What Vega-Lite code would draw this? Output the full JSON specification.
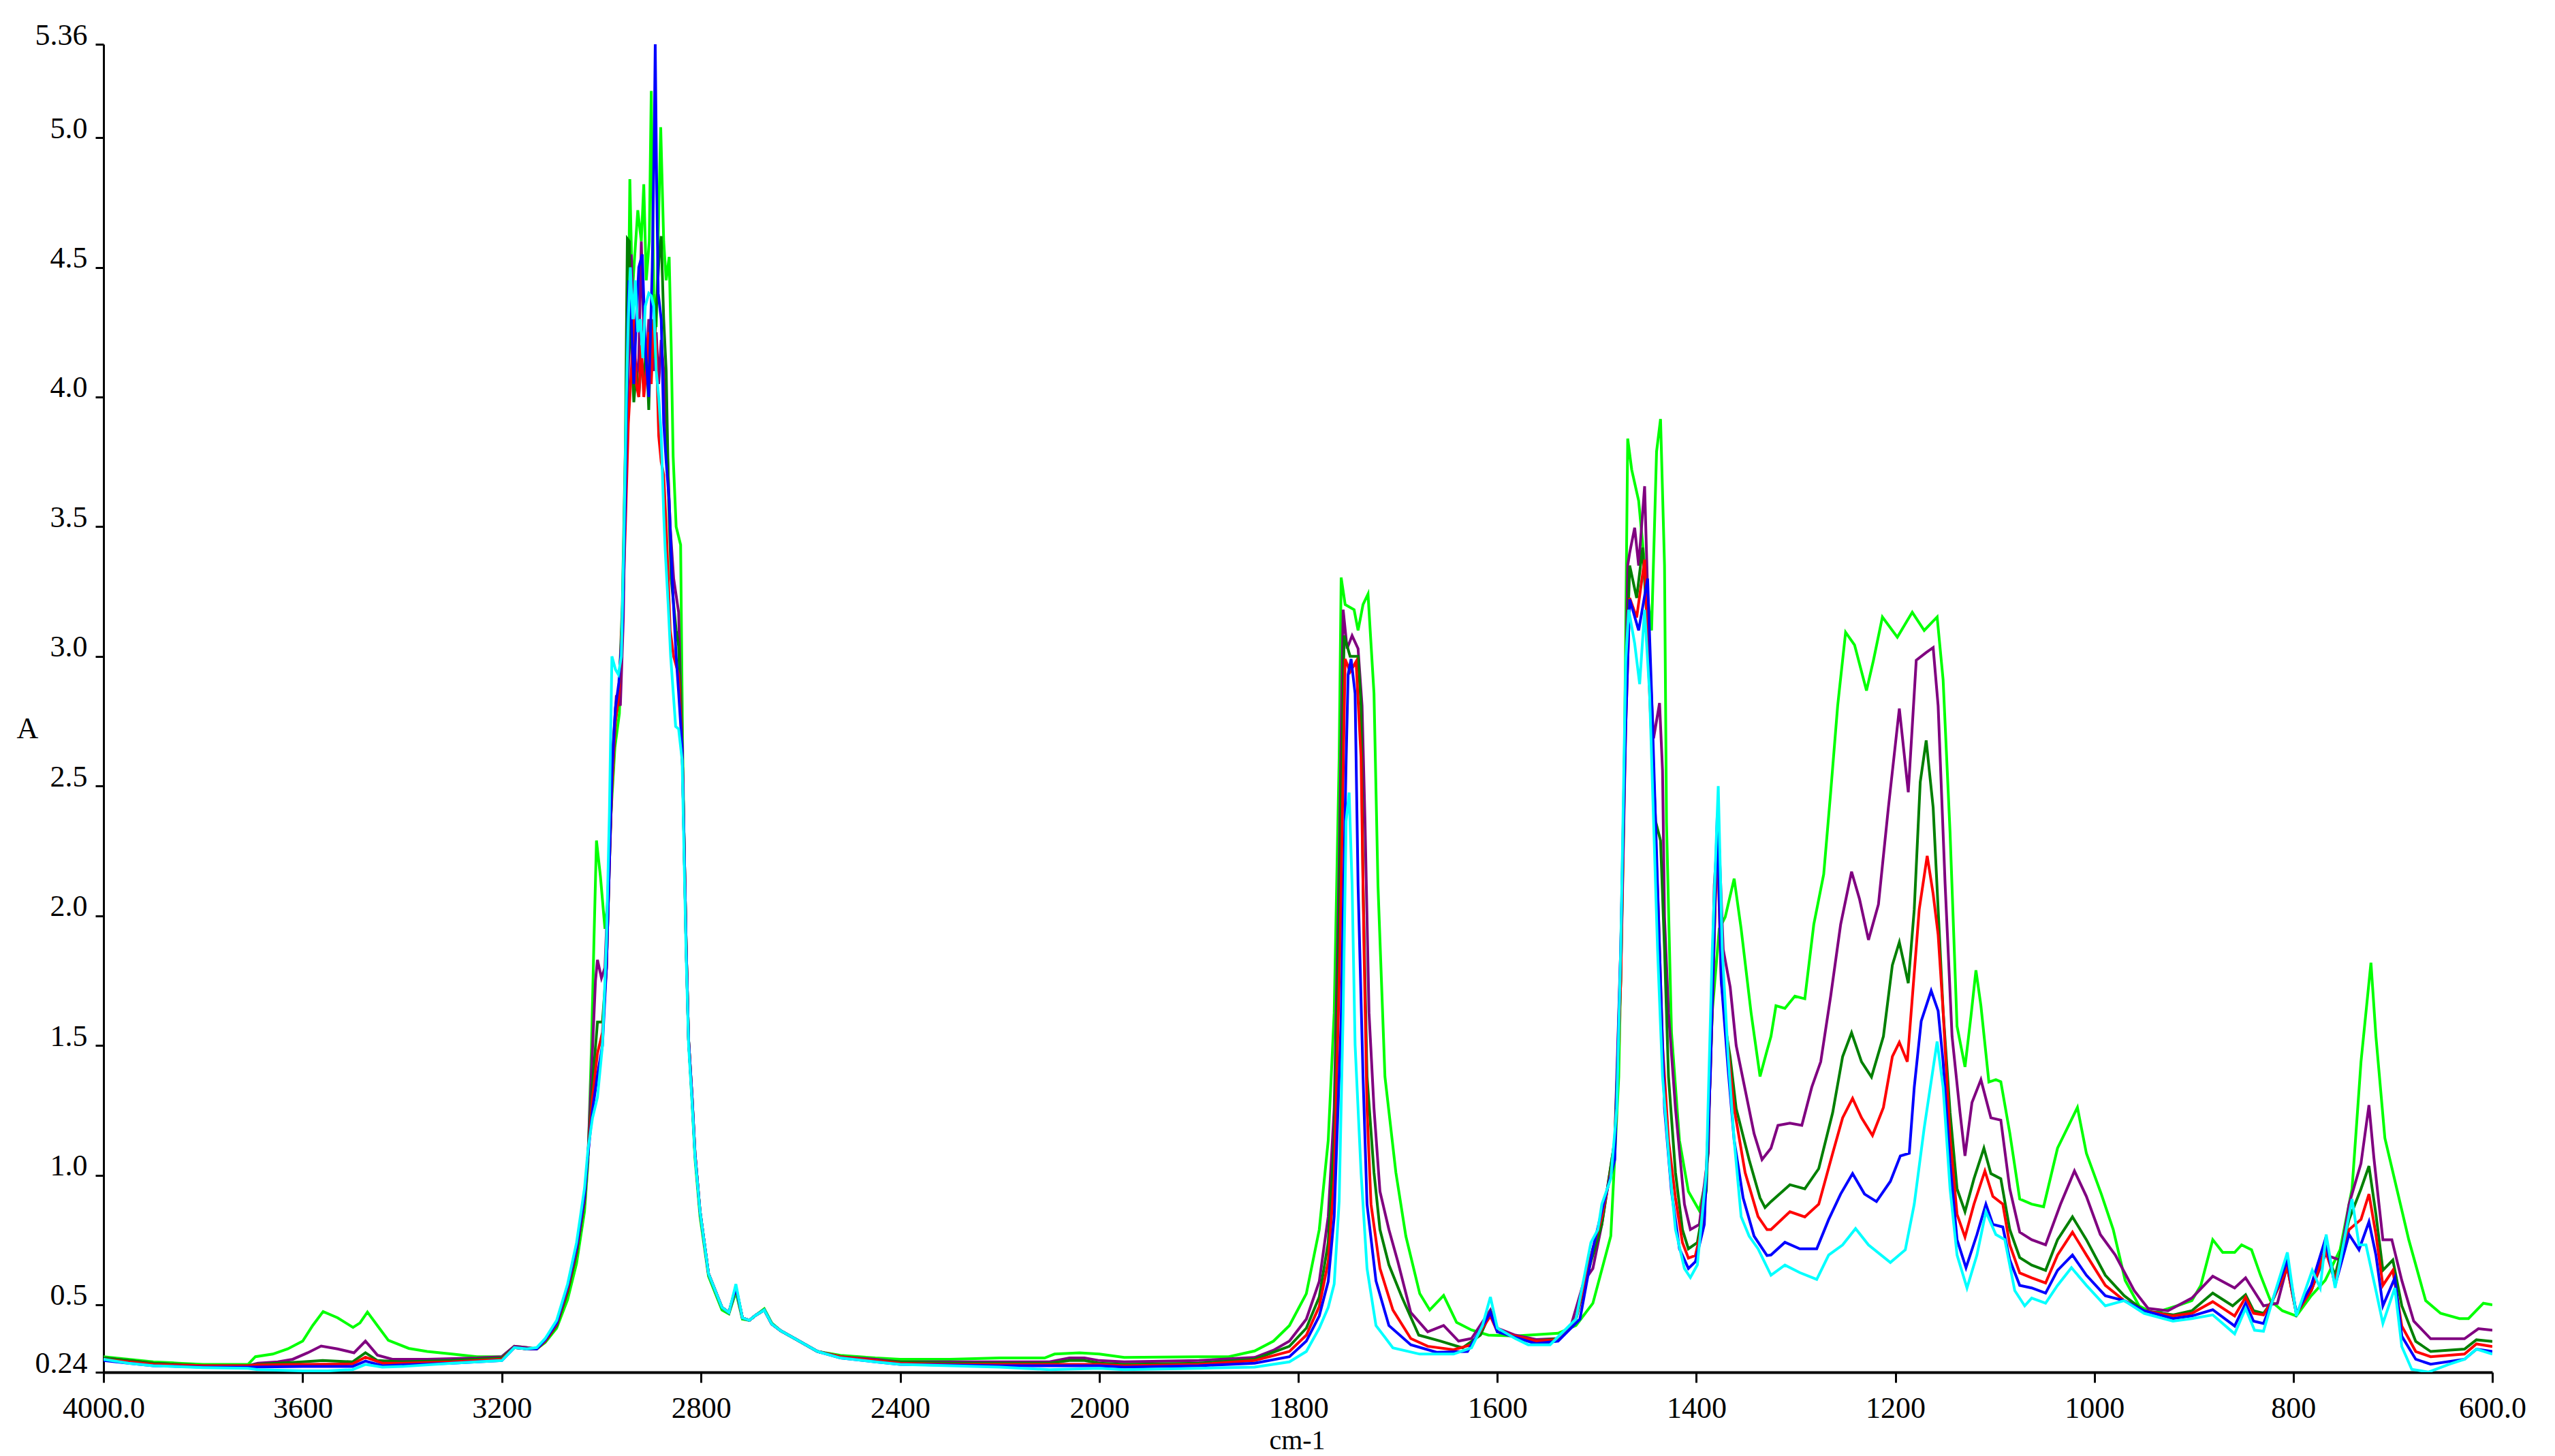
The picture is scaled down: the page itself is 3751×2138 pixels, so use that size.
{
"$schema":"https://vega.github.io/schema/vega-lite/v6.json",
"width":3507,"height":1950,
"autosize":"none",
"padding":{"left":152,"top":65,"right":92,"bottom":123},
"background":"white",
"config":{"view":{"stroke":null}},
"data":{"values":[
{"s":"lime","w":4000,"a":0.30},{"s":"lime","w":3950,"a":0.29},{"s":"lime","w":3900,"a":0.28},{"s":"lime","w":3850,"a":0.275},{"s":"lime","w":3800,"a":0.27},{"s":"lime","w":3710,"a":0.27},{"s":"lime","w":3695,"a":0.30},{"s":"lime","w":3660,"a":0.31},{"s":"lime","w":3630,"a":0.33},{"s":"lime","w":3600,"a":0.36},{"s":"lime","w":3580,"a":0.42},{"s":"lime","w":3559,"a":0.474},{"s":"lime","w":3530,"a":0.45},{"s":"lime","w":3499,"a":0.413},{"s":"lime","w":3485,"a":0.43},{"s":"lime","w":3470,"a":0.472},{"s":"lime","w":3450,"a":0.42},{"s":"lime","w":3428,"a":0.363},{"s":"lime","w":3387,"a":0.332},{"s":"lime","w":3350,"a":0.32},{"s":"lime","w":3300,"a":0.31},{"s":"lime","w":3250,"a":0.30},{"s":"lime","w":3200,"a":0.30},{"s":"lime","w":3175,"a":0.34},{"s":"lime","w":3150,"a":0.335},{"s":"lime","w":3130,"a":0.33},{"s":"lime","w":3113,"a":0.355},{"s":"lime","w":3090,"a":0.41},{"s":"lime","w":3068,"a":0.52},{"s":"lime","w":3050,"a":0.66},{"s":"lime","w":3034,"a":0.86},{"s":"lime","w":3027,"a":1.05},{"s":"lime","w":3020,"a":1.5},{"s":"lime","w":3015,"a":1.91},{"s":"lime","w":3010,"a":2.29},{"s":"lime","w":3002,"a":2.15},{"s":"lime","w":2993,"a":1.95},{"s":"lime","w":2988,"a":2.04},{"s":"lime","w":2981,"a":2.39},{"s":"lime","w":2973,"a":2.65},{"s":"lime","w":2964,"a":2.78},{"s":"lime","w":2956,"a":3.26},{"s":"lime","w":2952,"a":3.69},{"s":"lime","w":2946,"a":4.3},{"s":"lime","w":2943,"a":4.84},{"s":"lime","w":2938,"a":4.4},{"s":"lime","w":2933,"a":4.55},{"s":"lime","w":2927,"a":4.72},{"s":"lime","w":2920,"a":4.6},{"s":"lime","w":2915,"a":4.82},{"s":"lime","w":2910,"a":4.45},{"s":"lime","w":2904,"a":4.6},{"s":"lime","w":2900,"a":5.18},{"s":"lime","w":2895,"a":4.4},{"s":"lime","w":2890,"a":4.27},{"s":"lime","w":2885,"a":4.7},{"s":"lime","w":2881,"a":5.04},{"s":"lime","w":2875,"a":4.6},{"s":"lime","w":2870,"a":4.45},{"s":"lime","w":2864,"a":4.54},{"s":"lime","w":2860,"a":4.2},{"s":"lime","w":2856,"a":3.77},{"s":"lime","w":2850,"a":3.5},{"s":"lime","w":2841,"a":3.43},{"s":"lime","w":2837,"a":2.65},{"s":"lime","w":2834,"a":2.28},{"s":"lime","w":2830,"a":1.89},{"s":"lime","w":2825,"a":1.52},{"s":"lime","w":2818,"a":1.28},{"s":"lime","w":2812,"a":1.06},{"s":"lime","w":2802,"a":0.84},{"s":"lime","w":2785,"a":0.61},{"s":"lime","w":2758,"a":0.48},{"s":"lime","w":2744,"a":0.465},{"s":"lime","w":2730,"a":0.55},{"s":"lime","w":2717,"a":0.445},{"s":"lime","w":2703,"a":0.44},{"s":"lime","w":2690,"a":0.46},{"s":"lime","w":2673,"a":0.485},{"s":"lime","w":2658,"a":0.43},{"s":"lime","w":2640,"a":0.40},{"s":"lime","w":2612,"a":0.37},{"s":"lime","w":2566,"a":0.32},{"s":"lime","w":2520,"a":0.305},{"s":"lime","w":2450,"a":0.295},{"s":"lime","w":2400,"a":0.29},{"s":"lime","w":2300,"a":0.29},{"s":"lime","w":2200,"a":0.295},{"s":"lime","w":2110,"a":0.295},{"s":"lime","w":2090,"a":0.31},{"s":"lime","w":2040,"a":0.315},{"s":"lime","w":2000,"a":0.31},
{"s":"lime","w":1975,"a":0.297},{"s":"lime","w":1900,"a":0.30},{"s":"lime","w":1870,"a":0.30},{"s":"lime","w":1844,"a":0.322},{"s":"lime","w":1825,"a":0.36},{"s":"lime","w":1809,"a":0.42},{"s":"lime","w":1792,"a":0.543},{"s":"lime","w":1779,"a":0.79},{"s":"lime","w":1770,"a":1.134},{"s":"lime","w":1764,"a":1.626},{"s":"lime","w":1759,"a":2.61},{"s":"lime","w":1757,"a":3.304},{"s":"lime","w":1753,"a":3.2},{"s":"lime","w":1744,"a":3.18},{"s":"lime","w":1740,"a":3.1},{"s":"lime","w":1735,"a":3.2},{"s":"lime","w":1730,"a":3.24},{"s":"lime","w":1724,"a":2.857},{"s":"lime","w":1720,"a":2.118},{"s":"lime","w":1713,"a":1.38},{"s":"lime","w":1702,"a":1.01},{"s":"lime","w":1692,"a":0.765},{"s":"lime","w":1678,"a":0.543},{"s":"lime","w":1668,"a":0.48},{"s":"lime","w":1654,"a":0.536},{"s":"lime","w":1641,"a":0.432},{"s":"lime","w":1626,"a":0.403},{"s":"lime","w":1609,"a":0.383},{"s":"lime","w":1582,"a":0.38},{"s":"lime","w":1539,"a":0.39},{"s":"lime","w":1521,"a":0.42},{"s":"lime","w":1504,"a":0.506},{"s":"lime","w":1486,"a":0.765},{"s":"lime","w":1478,"a":1.38},{"s":"lime","w":1473,"a":2.36},{"s":"lime","w":1469,"a":3.84},{"s":"lime","w":1465,"a":3.72},{"s":"lime","w":1458,"a":3.6},{"s":"lime","w":1449,"a":3.23},{"s":"lime","w":1445,"a":3.1},{"s":"lime","w":1440,"a":3.79},{"s":"lime","w":1436,"a":3.915},{"s":"lime","w":1432,"a":3.35},{"s":"lime","w":1430,"a":2.36},{"s":"lime","w":1425,"a":1.55},{"s":"lime","w":1417,"a":1.134},{"s":"lime","w":1408,"a":0.937},{"s":"lime","w":1397,"a":0.863},{"s":"lime","w":1390,"a":0.99},{"s":"lime","w":1384,"a":1.63},{"s":"lime","w":1377,"a":1.95},{"s":"lime","w":1371,"a":1.995},{"s":"lime","w":1362,"a":2.143},{"s":"lime","w":1355,"a":1.95},{"s":"lime","w":1345,"a":1.626},{"s":"lime","w":1336,"a":1.38},{"s":"lime","w":1329,"a":1.48},{"s":"lime","w":1325,"a":1.535},{"s":"lime","w":1320,"a":1.653},{"s":"lime","w":1311,"a":1.643},{"s":"lime","w":1301,"a":1.69},{"s":"lime","w":1291,"a":1.68},{"s":"lime","w":1282,"a":1.966},{"s":"lime","w":1272,"a":2.16},{"s":"lime","w":1265,"a":2.476},{"s":"lime","w":1258,"a":2.809},{"s":"lime","w":1250,"a":3.093},{"s":"lime","w":1241,"a":3.044},{"s":"lime","w":1229,"a":2.868},{"s":"lime","w":1222,"a":2.985},{"s":"lime","w":1213,"a":3.152},{"s":"lime","w":1198,"a":3.074},{"s":"lime","w":1183,"a":3.17},{"s":"lime","w":1171,"a":3.1},{"s":"lime","w":1158,"a":3.152},{"s":"lime","w":1152,"a":2.91},{"s":"lime","w":1145,"a":2.32},{"s":"lime","w":1138,"a":1.574},{"s":"lime","w":1130,"a":1.417},{"s":"lime","w":1124,"a":1.613},{"s":"lime","w":1119,"a":1.79},{"s":"lime","w":1114,"a":1.653},{"s":"lime","w":1106,"a":1.359},{"s":"lime","w":1099,"a":1.368},{"s":"lime","w":1094,"a":1.36},{"s":"lime","w":1085,"a":1.163},{"s":"lime","w":1075,"a":0.908},{"s":"lime","w":1063,"a":0.888},{"s":"lime","w":1051,"a":0.878},{"s":"lime","w":1037,"a":1.104},{"s":"lime","w":1027,"a":1.182},{"s":"lime","w":1017,"a":1.261},{"s":"lime","w":1008,"a":1.084},{"s":"lime","w":993,"a":0.927},{"s":"lime","w":981,"a":0.79},{"s":"lime","w":969,"a":0.594},{"s":"lime","w":955,"a":0.496},{"s":"lime","w":941,"a":0.467},{"s":"lime","w":917,"a":0.496},{"s":"lime","w":902,"a":0.516},{"s":"lime","w":893,"a":0.575},{"s":"lime","w":881,"a":0.751},{"s":"lime","w":871,"a":0.702},{"s":"lime","w":859,"a":0.702},{"s":"lime","w":852,"a":0.731},{"s":"lime","w":842,"a":0.712},{"s":"lime","w":833,"a":0.614},{"s":"lime","w":823,"a":0.516},{"s":"lime","w":811,"a":0.477},{"s":"lime","w":797,"a":0.457},{"s":"lime","w":782,"a":0.535},{"s":"lime","w":768,"a":0.594},{"s":"lime","w":753,"a":0.712},{"s":"lime","w":741,"a":0.947},{"s":"lime","w":732,"a":1.437},{"s":"lime","w":722,"a":1.819},{"s":"lime","w":717,"a":1.535},{"s":"lime","w":708,"a":1.143},{"s":"lime","w":696,"a":0.947},{"s":"lime","w":684,"a":0.751},{"s":"lime","w":667,"a":0.516},{"s":"lime","w":652,"a":0.467},{"s":"lime","w":633,"a":0.447},{"s":"lime","w":624,"a":0.447},{"s":"lime","w":609,"a":0.506},{"s":"lime","w":600,"a":0.50},

{"s":"purple","w":4000,"a":0.295},{"s":"purple","w":3950,"a":0.285},{"s":"purple","w":3900,"a":0.275},{"s":"purple","w":3800,"a":0.265},{"s":"purple","w":3710,"a":0.265},{"s":"purple","w":3690,"a":0.275},{"s":"purple","w":3650,"a":0.28},{"s":"purple","w":3620,"a":0.29},{"s":"purple","w":3590,"a":0.315},{"s":"purple","w":3563,"a":0.341},{"s":"purple","w":3530,"a":0.33},{"s":"purple","w":3497,"a":0.315},{"s":"purple","w":3474,"a":0.36},{"s":"purple","w":3450,"a":0.306},{"s":"purple","w":3420,"a":0.29},{"s":"purple","w":3350,"a":0.29},{"s":"purple","w":3250,"a":0.295},{"s":"purple","w":3200,"a":0.30},{"s":"purple","w":3175,"a":0.34},{"s":"purple","w":3150,"a":0.335},{"s":"purple","w":3130,"a":0.33},{"s":"purple","w":3113,"a":0.36},{"s":"purple","w":3090,"a":0.42},{"s":"purple","w":3068,"a":0.55},{"s":"purple","w":3050,"a":0.70},{"s":"purple","w":3034,"a":0.90},{"s":"purple","w":3027,"a":1.08},{"s":"purple","w":3020,"a":1.4},{"s":"purple","w":3012,"a":1.75},{"s":"purple","w":3008,"a":1.83},{"s":"purple","w":3000,"a":1.76},{"s":"purple","w":2993,"a":1.80},{"s":"purple","w":2988,"a":2.04},{"s":"purple","w":2981,"a":2.39},{"s":"purple","w":2977,"a":2.65},{"s":"purple","w":2970,"a":2.85},{"s":"purple","w":2962,"a":2.81},{"s":"purple","w":2956,"a":3.15},{"s":"purple","w":2952,"a":3.7},{"s":"purple","w":2946,"a":4.1},{"s":"purple","w":2940,"a":4.55},{"s":"purple","w":2935,"a":4.2},{"s":"purple","w":2930,"a":4.05},{"s":"purple","w":2925,"a":4.15},{"s":"purple","w":2920,"a":4.6},{"s":"purple","w":2915,"a":4.25},{"s":"purple","w":2910,"a":4.1},{"s":"purple","w":2905,"a":4.3},{"s":"purple","w":2900,"a":4.2},{"s":"purple","w":2895,"a":4.1},{"s":"purple","w":2890,"a":4.25},{"s":"purple","w":2885,"a":4.05},{"s":"purple","w":2880,"a":4.22},{"s":"purple","w":2875,"a":4.1},{"s":"purple","w":2870,"a":3.9},{"s":"purple","w":2862,"a":3.5},{"s":"purple","w":2855,"a":3.3},{"s":"purple","w":2845,"a":3.17},{"s":"purple","w":2838,"a":2.65},{"s":"purple","w":2834,"a":2.28},{"s":"purple","w":2830,"a":1.89},{"s":"purple","w":2825,"a":1.52},{"s":"purple","w":2818,"a":1.30},{"s":"purple","w":2812,"a":1.08},{"s":"purple","w":2802,"a":0.86},{"s":"purple","w":2785,"a":0.62},{"s":"purple","w":2758,"a":0.49},{"s":"purple","w":2744,"a":0.47},{"s":"purple","w":2730,"a":0.568},{"s":"purple","w":2717,"a":0.45},{"s":"purple","w":2703,"a":0.44},{"s":"purple","w":2690,"a":0.46},{"s":"purple","w":2673,"a":0.48},{"s":"purple","w":2658,"a":0.426},{"s":"purple","w":2640,"a":0.40},{"s":"purple","w":2612,"a":0.37},{"s":"purple","w":2566,"a":0.32},{"s":"purple","w":2520,"a":0.30},{"s":"purple","w":2450,"a":0.29},{"s":"purple","w":2400,"a":0.28},{"s":"purple","w":2300,"a":0.28},{"s":"purple","w":2200,"a":0.28},{"s":"purple","w":2100,"a":0.28},{"s":"purple","w":2060,"a":0.295},{"s":"purple","w":2030,"a":0.295},{"s":"purple","w":2000,"a":0.285},
{"s":"purple","w":1975,"a":0.28},{"s":"purple","w":1900,"a":0.285},{"s":"purple","w":1844,"a":0.297},{"s":"purple","w":1825,"a":0.325},{"s":"purple","w":1809,"a":0.36},{"s":"purple","w":1792,"a":0.445},{"s":"purple","w":1779,"a":0.59},{"s":"purple","w":1770,"a":0.84},{"s":"purple","w":1764,"a":1.257},{"s":"purple","w":1759,"a":2.2},{"s":"purple","w":1755,"a":3.18},{"s":"purple","w":1751,"a":3.03},{"s":"purple","w":1746,"a":3.08},{"s":"purple","w":1740,"a":3.03},{"s":"purple","w":1736,"a":2.81},{"s":"purple","w":1733,"a":2.36},{"s":"purple","w":1729,"a":1.626},{"s":"purple","w":1724,"a":1.257},{"s":"purple","w":1718,"a":0.937},{"s":"purple","w":1709,"a":0.79},{"s":"purple","w":1700,"a":0.666},{"s":"purple","w":1687,"a":0.47},{"s":"purple","w":1670,"a":0.396},{"s":"purple","w":1654,"a":0.42},{"s":"purple","w":1639,"a":0.36},{"s":"purple","w":1626,"a":0.37},{"s":"purple","w":1613,"a":0.445},{"s":"purple","w":1607,"a":0.48},{"s":"purple","w":1600,"a":0.41},{"s":"purple","w":1582,"a":0.383},{"s":"purple","w":1561,"a":0.366},{"s":"purple","w":1539,"a":0.37},{"s":"purple","w":1526,"a":0.42},{"s":"purple","w":1513,"a":0.59},{"s":"purple","w":1504,"a":0.64},{"s":"purple","w":1495,"a":0.81},{"s":"purple","w":1482,"a":1.134},{"s":"purple","w":1476,"a":1.87},{"s":"purple","w":1471,"a":2.857},{"s":"purple","w":1469,"a":3.35},{"s":"purple","w":1467,"a":3.40},{"s":"purple","w":1462,"a":3.496},{"s":"purple","w":1458,"a":3.35},{"s":"purple","w":1452,"a":3.656},{"s":"purple","w":1447,"a":2.98},{"s":"purple","w":1443,"a":2.684},{"s":"purple","w":1437,"a":2.82},{"s":"purple","w":1434,"a":2.56},{"s":"purple","w":1432,"a":1.995},{"s":"purple","w":1428,"a":1.626},{"s":"purple","w":1421,"a":1.257},{"s":"purple","w":1412,"a":0.888},{"s":"purple","w":1406,"a":0.79},{"s":"purple","w":1397,"a":0.81},{"s":"purple","w":1388,"a":1.085},{"s":"purple","w":1382,"a":2.118},{"s":"purple","w":1378,"a":2.36},{"s":"purple","w":1373,"a":1.87},{"s":"purple","w":1366,"a":1.725},{"s":"purple","w":1360,"a":1.5},{"s":"purple","w":1351,"a":1.33},{"s":"purple","w":1342,"a":1.16},{"s":"purple","w":1334,"a":1.06},{"s":"purple","w":1325,"a":1.104},{"s":"purple","w":1318,"a":1.192},{"s":"purple","w":1306,"a":1.2},{"s":"purple","w":1294,"a":1.192},{"s":"purple","w":1284,"a":1.339},{"s":"purple","w":1275,"a":1.437},{"s":"purple","w":1265,"a":1.69},{"s":"purple","w":1255,"a":1.966},{"s":"purple","w":1244,"a":2.17},{"s":"purple","w":1236,"a":2.064},{"s":"purple","w":1227,"a":1.907},{"s":"purple","w":1217,"a":2.044},{"s":"purple","w":1207,"a":2.417},{"s":"purple","w":1196,"a":2.799},{"s":"purple","w":1187,"a":2.476},{"s":"purple","w":1179,"a":2.985},{"s":"purple","w":1169,"a":3.015},{"s":"purple","w":1162,"a":3.034},{"s":"purple","w":1157,"a":2.809},{"s":"purple","w":1150,"a":2.123},{"s":"purple","w":1143,"a":1.535},{"s":"purple","w":1135,"a":1.241},{"s":"purple","w":1130,"a":1.074},{"s":"purple","w":1123,"a":1.28},{"s":"purple","w":1114,"a":1.368},{"s":"purple","w":1104,"a":1.221},{"s":"purple","w":1094,"a":1.212},{"s":"purple","w":1085,"a":0.947},{"s":"purple","w":1075,"a":0.78},{"s":"purple","w":1063,"a":0.751},{"s":"purple","w":1049,"a":0.731},{"s":"purple","w":1034,"a":0.888},{"s":"purple","w":1020,"a":1.016},{"s":"purple","w":1008,"a":0.918},{"s":"purple","w":994,"a":0.771},{"s":"purple","w":979,"a":0.692},{"s":"purple","w":960,"a":0.555},{"s":"purple","w":946,"a":0.486},{"s":"purple","w":926,"a":0.477},{"s":"purple","w":902,"a":0.526},{"s":"purple","w":881,"a":0.61},{"s":"purple","w":859,"a":0.565},{"s":"purple","w":848,"a":0.604},{"s":"purple","w":830,"a":0.496},{"s":"purple","w":816,"a":0.506},{"s":"purple","w":806,"a":0.653},{"s":"purple","w":797,"a":0.467},{"s":"purple","w":782,"a":0.555},{"s":"purple","w":768,"a":0.692},{"s":"purple","w":753,"a":0.673},{"s":"purple","w":744,"a":0.888},{"s":"purple","w":732,"a":1.045},{"s":"purple","w":724,"a":1.27},{"s":"purple","w":719,"a":1.065},{"s":"purple","w":710,"a":0.751},{"s":"purple","w":701,"a":0.751},{"s":"purple","w":691,"a":0.594},{"s":"purple","w":679,"a":0.437},{"s":"purple","w":662,"a":0.369},{"s":"purple","w":628,"a":0.369},{"s":"purple","w":614,"a":0.408},{"s":"purple","w":600,"a":0.402},

{"s":"dgreen","w":4000,"a":0.295},{"s":"dgreen","w":3950,"a":0.285},{"s":"dgreen","w":3900,"a":0.275},{"s":"dgreen","w":3800,"a":0.265},{"s":"dgreen","w":3710,"a":0.265},{"s":"dgreen","w":3690,"a":0.27},{"s":"dgreen","w":3650,"a":0.275},{"s":"dgreen","w":3600,"a":0.28},{"s":"dgreen","w":3560,"a":0.285},{"s":"dgreen","w":3500,"a":0.28},{"s":"dgreen","w":3474,"a":0.315},{"s":"dgreen","w":3450,"a":0.285},{"s":"dgreen","w":3400,"a":0.28},{"s":"dgreen","w":3300,"a":0.285},{"s":"dgreen","w":3200,"a":0.295},{"s":"dgreen","w":3175,"a":0.335},{"s":"dgreen","w":3150,"a":0.33},{"s":"dgreen","w":3130,"a":0.33},{"s":"dgreen","w":3113,"a":0.36},{"s":"dgreen","w":3090,"a":0.42},{"s":"dgreen","w":3068,"a":0.55},{"s":"dgreen","w":3050,"a":0.70},{"s":"dgreen","w":3034,"a":0.90},{"s":"dgreen","w":3027,"a":1.08},{"s":"dgreen","w":3018,"a":1.35},{"s":"dgreen","w":3008,"a":1.59},{"s":"dgreen","w":2998,"a":1.59},{"s":"dgreen","w":2990,"a":1.8},{"s":"dgreen","w":2984,"a":2.2},{"s":"dgreen","w":2979,"a":2.5},{"s":"dgreen","w":2972,"a":2.75},{"s":"dgreen","w":2965,"a":2.85},{"s":"dgreen","w":2958,"a":3.2},{"s":"dgreen","w":2952,"a":3.8},{"s":"dgreen","w":2948,"a":4.61},{"s":"dgreen","w":2944,"a":4.6},{"s":"dgreen","w":2940,"a":4.2},{"s":"dgreen","w":2935,"a":3.98},{"s":"dgreen","w":2930,"a":4.1},{"s":"dgreen","w":2925,"a":4.0},{"s":"dgreen","w":2920,"a":4.15},{"s":"dgreen","w":2915,"a":4.05},{"s":"dgreen","w":2910,"a":4.2},{"s":"dgreen","w":2905,"a":3.95},{"s":"dgreen","w":2900,"a":4.3},{"s":"dgreen","w":2895,"a":4.15},{"s":"dgreen","w":2888,"a":4.4},{"s":"dgreen","w":2884,"a":4.55},{"s":"dgreen","w":2880,"a":4.62},{"s":"dgreen","w":2875,"a":4.3},{"s":"dgreen","w":2870,"a":4.1},{"s":"dgreen","w":2865,"a":3.6},{"s":"dgreen","w":2860,"a":3.3},{"s":"dgreen","w":2850,"a":3.1},{"s":"dgreen","w":2845,"a":3.04},{"s":"dgreen","w":2838,"a":2.65},{"s":"dgreen","w":2834,"a":2.28},{"s":"dgreen","w":2830,"a":1.89},{"s":"dgreen","w":2825,"a":1.52},{"s":"dgreen","w":2818,"a":1.30},{"s":"dgreen","w":2812,"a":1.08},{"s":"dgreen","w":2802,"a":0.86},{"s":"dgreen","w":2785,"a":0.62},{"s":"dgreen","w":2758,"a":0.49},{"s":"dgreen","w":2744,"a":0.47},{"s":"dgreen","w":2730,"a":0.568},{"s":"dgreen","w":2717,"a":0.45},{"s":"dgreen","w":2703,"a":0.44},{"s":"dgreen","w":2690,"a":0.46},{"s":"dgreen","w":2673,"a":0.48},{"s":"dgreen","w":2658,"a":0.426},{"s":"dgreen","w":2640,"a":0.40},{"s":"dgreen","w":2612,"a":0.37},{"s":"dgreen","w":2566,"a":0.32},{"s":"dgreen","w":2520,"a":0.30},{"s":"dgreen","w":2450,"a":0.285},{"s":"dgreen","w":2400,"a":0.28},{"s":"dgreen","w":2300,"a":0.275},{"s":"dgreen","w":2200,"a":0.275},{"s":"dgreen","w":2100,"a":0.275},{"s":"dgreen","w":2060,"a":0.285},{"s":"dgreen","w":2030,"a":0.285},{"s":"dgreen","w":2000,"a":0.275},
{"s":"dgreen","w":1975,"a":0.27},{"s":"dgreen","w":1900,"a":0.275},{"s":"dgreen","w":1844,"a":0.29},{"s":"dgreen","w":1809,"a":0.34},{"s":"dgreen","w":1792,"a":0.41},{"s":"dgreen","w":1779,"a":0.53},{"s":"dgreen","w":1770,"a":0.74},{"s":"dgreen","w":1764,"a":1.134},{"s":"dgreen","w":1759,"a":2.0},{"s":"dgreen","w":1754,"a":3.08},{"s":"dgreen","w":1748,"a":3.0},{"s":"dgreen","w":1740,"a":3.0},{"s":"dgreen","w":1737,"a":2.81},{"s":"dgreen","w":1735,"a":2.12},{"s":"dgreen","w":1731,"a":1.38},{"s":"dgreen","w":1724,"a":1.01},{"s":"dgreen","w":1718,"a":0.79},{"s":"dgreen","w":1709,"a":0.654},{"s":"dgreen","w":1696,"a":0.53},{"s":"dgreen","w":1679,"a":0.383},{"s":"dgreen","w":1657,"a":0.36},{"s":"dgreen","w":1635,"a":0.334},{"s":"dgreen","w":1617,"a":0.383},{"s":"dgreen","w":1607,"a":0.47},{"s":"dgreen","w":1600,"a":0.396},{"s":"dgreen","w":1582,"a":0.376},{"s":"dgreen","w":1561,"a":0.36},{"s":"dgreen","w":1539,"a":0.37},{"s":"dgreen","w":1521,"a":0.445},{"s":"dgreen","w":1506,"a":0.666},{"s":"dgreen","w":1495,"a":0.81},{"s":"dgreen","w":1482,"a":1.134},{"s":"dgreen","w":1476,"a":1.75},{"s":"dgreen","w":1471,"a":2.86},{"s":"dgreen","w":1467,"a":3.35},{"s":"dgreen","w":1460,"a":3.225},{"s":"dgreen","w":1454,"a":3.42},{"s":"dgreen","w":1449,"a":3.1},{"s":"dgreen","w":1445,"a":2.73},{"s":"dgreen","w":1441,"a":2.364},{"s":"dgreen","w":1436,"a":2.29},{"s":"dgreen","w":1432,"a":1.87},{"s":"dgreen","w":1428,"a":1.38},{"s":"dgreen","w":1421,"a":1.01},{"s":"dgreen","w":1414,"a":0.79},{"s":"dgreen","w":1408,"a":0.716},{"s":"dgreen","w":1399,"a":0.74},{"s":"dgreen","w":1390,"a":0.94},{"s":"dgreen","w":1384,"a":1.63},{"s":"dgreen","w":1379,"a":2.36},{"s":"dgreen","w":1375,"a":1.87},{"s":"dgreen","w":1371,"a":1.577},{"s":"dgreen","w":1366,"a":1.454},{"s":"dgreen","w":1360,"a":1.257},{"s":"dgreen","w":1347,"a":1.06},{"s":"dgreen","w":1336,"a":0.912},{"s":"dgreen","w":1331,"a":0.875},{"s":"dgreen","w":1325,"a":0.898},{"s":"dgreen","w":1306,"a":0.963},{"s":"dgreen","w":1291,"a":0.947},{"s":"dgreen","w":1277,"a":1.025},{"s":"dgreen","w":1263,"a":1.241},{"s":"dgreen","w":1253,"a":1.457},{"s":"dgreen","w":1244,"a":1.549},{"s":"dgreen","w":1234,"a":1.437},{"s":"dgreen","w":1224,"a":1.378},{"s":"dgreen","w":1212,"a":1.535},{"s":"dgreen","w":1203,"a":1.81},{"s":"dgreen","w":1196,"a":1.898},{"s":"dgreen","w":1187,"a":1.74},{"s":"dgreen","w":1181,"a":2.025},{"s":"dgreen","w":1175,"a":2.515},{"s":"dgreen","w":1169,"a":2.676},{"s":"dgreen","w":1162,"a":2.417},{"s":"dgreen","w":1157,"a":2.025},{"s":"dgreen","w":1152,"a":1.633},{"s":"dgreen","w":1145,"a":1.241},{"s":"dgreen","w":1138,"a":0.947},{"s":"dgreen","w":1130,"a":0.859},{"s":"dgreen","w":1121,"a":0.986},{"s":"dgreen","w":1111,"a":1.104},{"s":"dgreen","w":1104,"a":1.006},{"s":"dgreen","w":1094,"a":0.986},{"s":"dgreen","w":1085,"a":0.79},{"s":"dgreen","w":1075,"a":0.682},{"s":"dgreen","w":1063,"a":0.653},{"s":"dgreen","w":1049,"a":0.633},{"s":"dgreen","w":1037,"a":0.751},{"s":"dgreen","w":1022,"a":0.839},{"s":"dgreen","w":1008,"a":0.751},{"s":"dgreen","w":989,"a":0.614},{"s":"dgreen","w":970,"a":0.535},{"s":"dgreen","w":950,"a":0.477},{"s":"dgreen","w":921,"a":0.461},{"s":"dgreen","w":902,"a":0.477},{"s":"dgreen","w":881,"a":0.545},{"s":"dgreen","w":861,"a":0.496},{"s":"dgreen","w":848,"a":0.539},{"s":"dgreen","w":840,"a":0.477},{"s":"dgreen","w":830,"a":0.467},{"s":"dgreen","w":821,"a":0.516},{"s":"dgreen","w":806,"a":0.643},{"s":"dgreen","w":797,"a":0.467},{"s":"dgreen","w":782,"a":0.555},{"s":"dgreen","w":768,"a":0.712},{"s":"dgreen","w":758,"a":0.614},{"s":"dgreen","w":744,"a":0.829},{"s":"dgreen","w":732,"a":0.947},{"s":"dgreen","w":724,"a":1.035},{"s":"dgreen","w":717,"a":0.849},{"s":"dgreen","w":710,"a":0.633},{"s":"dgreen","w":700,"a":0.673},{"s":"dgreen","w":691,"a":0.496},{"s":"dgreen","w":677,"a":0.359},{"s":"dgreen","w":662,"a":0.32},{"s":"dgreen","w":628,"a":0.329},{"s":"dgreen","w":616,"a":0.365},{"s":"dgreen","w":600,"a":0.359},

{"s":"red","w":4000,"a":0.29},{"s":"red","w":3950,"a":0.28},{"s":"red","w":3900,"a":0.27},{"s":"red","w":3800,"a":0.265},{"s":"red","w":3710,"a":0.265},{"s":"red","w":3690,"a":0.268},{"s":"red","w":3600,"a":0.27},{"s":"red","w":3500,"a":0.272},{"s":"red","w":3474,"a":0.298},{"s":"red","w":3440,"a":0.275},{"s":"red","w":3400,"a":0.275},{"s":"red","w":3300,"a":0.28},{"s":"red","w":3200,"a":0.29},{"s":"red","w":3175,"a":0.335},{"s":"red","w":3150,"a":0.33},{"s":"red","w":3130,"a":0.33},{"s":"red","w":3113,"a":0.36},{"s":"red","w":3090,"a":0.425},{"s":"red","w":3068,"a":0.56},{"s":"red","w":3050,"a":0.71},{"s":"red","w":3034,"a":0.91},{"s":"red","w":3027,"a":1.08},{"s":"red","w":3018,"a":1.3},{"s":"red","w":3008,"a":1.47},{"s":"red","w":2998,"a":1.55},{"s":"red","w":2990,"a":1.8},{"s":"red","w":2984,"a":2.2},{"s":"red","w":2979,"a":2.5},{"s":"red","w":2972,"a":2.75},{"s":"red","w":2965,"a":2.85},{"s":"red","w":2958,"a":3.15},{"s":"red","w":2952,"a":3.5},{"s":"red","w":2946,"a":3.9},{"s":"red","w":2940,"a":4.1},{"s":"red","w":2935,"a":4.3},{"s":"red","w":2930,"a":4.05},{"s":"red","w":2925,"a":4.0},{"s":"red","w":2920,"a":4.2},{"s":"red","w":2915,"a":4.0},{"s":"red","w":2910,"a":4.1},{"s":"red","w":2905,"a":4.25},{"s":"red","w":2900,"a":4.05},{"s":"red","w":2895,"a":4.3},{"s":"red","w":2890,"a":4.2},{"s":"red","w":2885,"a":3.85},{"s":"red","w":2880,"a":3.75},{"s":"red","w":2875,"a":3.7},{"s":"red","w":2870,"a":3.5},{"s":"red","w":2862,"a":3.1},{"s":"red","w":2855,"a":3.0},{"s":"red","w":2845,"a":2.93},{"s":"red","w":2838,"a":2.65},{"s":"red","w":2834,"a":2.28},{"s":"red","w":2830,"a":1.89},{"s":"red","w":2825,"a":1.52},{"s":"red","w":2818,"a":1.30},{"s":"red","w":2812,"a":1.08},{"s":"red","w":2802,"a":0.86},{"s":"red","w":2785,"a":0.62},{"s":"red","w":2758,"a":0.49},{"s":"red","w":2744,"a":0.47},{"s":"red","w":2730,"a":0.568},{"s":"red","w":2717,"a":0.45},{"s":"red","w":2703,"a":0.44},{"s":"red","w":2690,"a":0.46},{"s":"red","w":2673,"a":0.48},{"s":"red","w":2658,"a":0.426},{"s":"red","w":2640,"a":0.40},{"s":"red","w":2612,"a":0.37},{"s":"red","w":2566,"a":0.32},{"s":"red","w":2520,"a":0.30},{"s":"red","w":2450,"a":0.285},{"s":"red","w":2400,"a":0.275},{"s":"red","w":2300,"a":0.27},{"s":"red","w":2200,"a":0.27},{"s":"red","w":2100,"a":0.27},{"s":"red","w":2000,"a":0.27},
{"s":"red","w":1975,"a":0.265},{"s":"red","w":1900,"a":0.27},{"s":"red","w":1844,"a":0.285},{"s":"red","w":1809,"a":0.32},{"s":"red","w":1792,"a":0.383},{"s":"red","w":1779,"a":0.494},{"s":"red","w":1770,"a":0.666},{"s":"red","w":1764,"a":0.99},{"s":"red","w":1758,"a":1.9},{"s":"red","w":1753,"a":2.99},{"s":"red","w":1748,"a":2.94},{"s":"red","w":1742,"a":2.98},{"s":"red","w":1737,"a":2.61},{"s":"red","w":1734,"a":1.87},{"s":"red","w":1731,"a":1.257},{"s":"red","w":1727,"a":0.888},{"s":"red","w":1718,"a":0.64},{"s":"red","w":1705,"a":0.48},{"s":"red","w":1687,"a":0.37},{"s":"red","w":1670,"a":0.34},{"s":"red","w":1644,"a":0.327},{"s":"red","w":1626,"a":0.346},{"s":"red","w":1607,"a":0.457},{"s":"red","w":1600,"a":0.396},{"s":"red","w":1561,"a":0.36},{"s":"red","w":1539,"a":0.366},{"s":"red","w":1521,"a":0.445},{"s":"red","w":1506,"a":0.69},{"s":"red","w":1495,"a":0.84},{"s":"red","w":1482,"a":1.085},{"s":"red","w":1476,"a":1.75},{"s":"red","w":1471,"a":2.73},{"s":"red","w":1467,"a":3.225},{"s":"red","w":1460,"a":3.15},{"s":"red","w":1452,"a":3.373},{"s":"red","w":1447,"a":2.857},{"s":"red","w":1443,"a":2.49},{"s":"red","w":1438,"a":1.995},{"s":"red","w":1434,"a":1.503},{"s":"red","w":1428,"a":1.134},{"s":"red","w":1421,"a":0.912},{"s":"red","w":1414,"a":0.74},{"s":"red","w":1408,"a":0.68},{"s":"red","w":1401,"a":0.69},{"s":"red","w":1392,"a":0.84},{"s":"red","w":1386,"a":1.38},{"s":"red","w":1379,"a":2.315},{"s":"red","w":1375,"a":1.75},{"s":"red","w":1368,"a":1.48},{"s":"red","w":1362,"a":1.257},{"s":"red","w":1351,"a":1.01},{"s":"red","w":1338,"a":0.84},{"s":"red","w":1329,"a":0.79},{"s":"red","w":1325,"a":0.79},{"s":"red","w":1306,"a":0.859},{"s":"red","w":1291,"a":0.839},{"s":"red","w":1277,"a":0.888},{"s":"red","w":1263,"a":1.084},{"s":"red","w":1253,"a":1.221},{"s":"red","w":1243,"a":1.296},{"s":"red","w":1234,"a":1.221},{"s":"red","w":1223,"a":1.153},{"s":"red","w":1212,"a":1.261},{"s":"red","w":1203,"a":1.457},{"s":"red","w":1196,"a":1.512},{"s":"red","w":1188,"a":1.437},{"s":"red","w":1182,"a":1.731},{"s":"red","w":1176,"a":2.025},{"s":"red","w":1168,"a":2.231},{"s":"red","w":1162,"a":2.084},{"s":"red","w":1157,"a":1.927},{"s":"red","w":1152,"a":1.633},{"s":"red","w":1145,"a":1.143},{"s":"red","w":1138,"a":0.849},{"s":"red","w":1130,"a":0.761},{"s":"red","w":1121,"a":0.888},{"s":"red","w":1110,"a":1.016},{"s":"red","w":1102,"a":0.918},{"s":"red","w":1092,"a":0.888},{"s":"red","w":1085,"a":0.731},{"s":"red","w":1075,"a":0.623},{"s":"red","w":1063,"a":0.604},{"s":"red","w":1049,"a":0.584},{"s":"red","w":1037,"a":0.692},{"s":"red","w":1022,"a":0.78},{"s":"red","w":1008,"a":0.692},{"s":"red","w":989,"a":0.575},{"s":"red","w":970,"a":0.516},{"s":"red","w":950,"a":0.477},{"s":"red","w":921,"a":0.457},{"s":"red","w":902,"a":0.467},{"s":"red","w":881,"a":0.512},{"s":"red","w":859,"a":0.457},{"s":"red","w":848,"a":0.529},{"s":"red","w":840,"a":0.467},{"s":"red","w":830,"a":0.461},{"s":"red","w":821,"a":0.516},{"s":"red","w":806,"a":0.643},{"s":"red","w":797,"a":0.467},{"s":"red","w":782,"a":0.555},{"s":"red","w":768,"a":0.712},{"s":"red","w":758,"a":0.594},{"s":"red","w":744,"a":0.79},{"s":"red","w":732,"a":0.829},{"s":"red","w":724,"a":0.927},{"s":"red","w":717,"a":0.771},{"s":"red","w":710,"a":0.575},{"s":"red","w":700,"a":0.633},{"s":"red","w":691,"a":0.418},{"s":"red","w":677,"a":0.32},{"s":"red","w":662,"a":0.30},{"s":"red","w":628,"a":0.31},{"s":"red","w":616,"a":0.349},{"s":"red","w":600,"a":0.339},

{"s":"blue","w":4000,"a":0.285},{"s":"blue","w":3950,"a":0.275},{"s":"blue","w":3900,"a":0.265},{"s":"blue","w":3800,"a":0.26},{"s":"blue","w":3710,"a":0.26},{"s":"blue","w":3600,"a":0.262},{"s":"blue","w":3500,"a":0.262},{"s":"blue","w":3474,"a":0.283},{"s":"blue","w":3440,"a":0.265},{"s":"blue","w":3400,"a":0.268},{"s":"blue","w":3300,"a":0.275},{"s":"blue","w":3200,"a":0.285},{"s":"blue","w":3175,"a":0.335},{"s":"blue","w":3150,"a":0.33},{"s":"blue","w":3130,"a":0.33},{"s":"blue","w":3113,"a":0.365},{"s":"blue","w":3090,"a":0.43},{"s":"blue","w":3068,"a":0.57},{"s":"blue","w":3050,"a":0.72},{"s":"blue","w":3034,"a":0.92},{"s":"blue","w":3027,"a":1.08},{"s":"blue","w":3018,"a":1.25},{"s":"blue","w":3008,"a":1.385},{"s":"blue","w":2998,"a":1.5},{"s":"blue","w":2990,"a":1.8},{"s":"blue","w":2984,"a":2.2},{"s":"blue","w":2979,"a":2.55},{"s":"blue","w":2972,"a":2.8},{"s":"blue","w":2965,"a":2.9},{"s":"blue","w":2958,"a":3.1},{"s":"blue","w":2952,"a":3.6},{"s":"blue","w":2947,"a":4.3},{"s":"blue","w":2945,"a":4.45},{"s":"blue","w":2940,"a":4.3},{"s":"blue","w":2935,"a":4.05},{"s":"blue","w":2930,"a":4.3},{"s":"blue","w":2925,"a":4.5},{"s":"blue","w":2918,"a":4.55},{"s":"blue","w":2912,"a":4.2},{"s":"blue","w":2905,"a":4.0},{"s":"blue","w":2898,"a":4.5},{"s":"blue","w":2894,"a":5.0},{"s":"blue","w":2892,"a":5.36},{"s":"blue","w":2889,"a":4.8},{"s":"blue","w":2886,"a":4.4},{"s":"blue","w":2880,"a":4.3},{"s":"blue","w":2875,"a":3.9},{"s":"blue","w":2870,"a":3.75},{"s":"blue","w":2864,"a":3.6},{"s":"blue","w":2858,"a":3.3},{"s":"blue","w":2850,"a":3.0},{"s":"blue","w":2845,"a":2.86},{"s":"blue","w":2838,"a":2.65},{"s":"blue","w":2834,"a":2.28},{"s":"blue","w":2830,"a":1.89},{"s":"blue","w":2825,"a":1.52},{"s":"blue","w":2818,"a":1.30},{"s":"blue","w":2812,"a":1.08},{"s":"blue","w":2802,"a":0.86},{"s":"blue","w":2785,"a":0.62},{"s":"blue","w":2758,"a":0.49},{"s":"blue","w":2744,"a":0.47},{"s":"blue","w":2730,"a":0.568},{"s":"blue","w":2717,"a":0.45},{"s":"blue","w":2703,"a":0.44},{"s":"blue","w":2690,"a":0.46},{"s":"blue","w":2673,"a":0.48},{"s":"blue","w":2658,"a":0.426},{"s":"blue","w":2640,"a":0.40},{"s":"blue","w":2612,"a":0.37},{"s":"blue","w":2566,"a":0.32},{"s":"blue","w":2520,"a":0.295},{"s":"blue","w":2450,"a":0.28},{"s":"blue","w":2400,"a":0.27},{"s":"blue","w":2200,"a":0.265},{"s":"blue","w":2100,"a":0.265},{"s":"blue","w":2000,"a":0.265},
{"s":"blue","w":1975,"a":0.26},{"s":"blue","w":1900,"a":0.265},{"s":"blue","w":1844,"a":0.275},{"s":"blue","w":1809,"a":0.30},{"s":"blue","w":1792,"a":0.36},{"s":"blue","w":1779,"a":0.457},{"s":"blue","w":1770,"a":0.59},{"s":"blue","w":1764,"a":0.84},{"s":"blue","w":1757,"a":1.6},{"s":"blue","w":1752,"a":2.6},{"s":"blue","w":1750,"a":2.93},{"s":"blue","w":1747,"a":2.99},{"s":"blue","w":1743,"a":2.857},{"s":"blue","w":1740,"a":2.118},{"s":"blue","w":1735,"a":1.38},{"s":"blue","w":1731,"a":0.888},{"s":"blue","w":1722,"a":0.592},{"s":"blue","w":1709,"a":0.42},{"s":"blue","w":1687,"a":0.346},{"s":"blue","w":1661,"a":0.317},{"s":"blue","w":1630,"a":0.32},{"s":"blue","w":1607,"a":0.47},{"s":"blue","w":1600,"a":0.396},{"s":"blue","w":1561,"a":0.35},{"s":"blue","w":1539,"a":0.36},{"s":"blue","w":1517,"a":0.445},{"s":"blue","w":1504,"a":0.716},{"s":"blue","w":1495,"a":0.863},{"s":"blue","w":1482,"a":1.06},{"s":"blue","w":1476,"a":1.87},{"s":"blue","w":1471,"a":2.73},{"s":"blue","w":1467,"a":3.22},{"s":"blue","w":1458,"a":3.1},{"s":"blue","w":1449,"a":3.3},{"s":"blue","w":1445,"a":2.857},{"s":"blue","w":1441,"a":2.364},{"s":"blue","w":1436,"a":1.75},{"s":"blue","w":1432,"a":1.257},{"s":"blue","w":1425,"a":0.937},{"s":"blue","w":1417,"a":0.716},{"s":"blue","w":1408,"a":0.64},{"s":"blue","w":1401,"a":0.666},{"s":"blue","w":1392,"a":0.81},{"s":"blue","w":1386,"a":1.38},{"s":"blue","w":1379,"a":2.39},{"s":"blue","w":1375,"a":1.75},{"s":"blue","w":1368,"a":1.405},{"s":"blue","w":1362,"a":1.134},{"s":"blue","w":1353,"a":0.912},{"s":"blue","w":1342,"a":0.765},{"s":"blue","w":1329,"a":0.69},{"s":"blue","w":1325,"a":0.692},{"s":"blue","w":1311,"a":0.741},{"s":"blue","w":1296,"a":0.716},{"s":"blue","w":1279,"a":0.716},{"s":"blue","w":1267,"a":0.829},{"s":"blue","w":1255,"a":0.927},{"s":"blue","w":1243,"a":1.006},{"s":"blue","w":1231,"a":0.927},{"s":"blue","w":1219,"a":0.898},{"s":"blue","w":1205,"a":0.976},{"s":"blue","w":1195,"a":1.074},{"s":"blue","w":1186,"a":1.084},{"s":"blue","w":1181,"a":1.339},{"s":"blue","w":1174,"a":1.594},{"s":"blue","w":1164,"a":1.711},{"s":"blue","w":1157,"a":1.633},{"s":"blue","w":1152,"a":1.437},{"s":"blue","w":1145,"a":1.045},{"s":"blue","w":1138,"a":0.751},{"s":"blue","w":1129,"a":0.643},{"s":"blue","w":1118,"a":0.771},{"s":"blue","w":1109,"a":0.888},{"s":"blue","w":1102,"a":0.81},{"s":"blue","w":1092,"a":0.8},{"s":"blue","w":1085,"a":0.673},{"s":"blue","w":1075,"a":0.575},{"s":"blue","w":1063,"a":0.565},{"s":"blue","w":1049,"a":0.545},{"s":"blue","w":1037,"a":0.633},{"s":"blue","w":1022,"a":0.692},{"s":"blue","w":1008,"a":0.614},{"s":"blue","w":989,"a":0.535},{"s":"blue","w":970,"a":0.516},{"s":"blue","w":950,"a":0.477},{"s":"blue","w":921,"a":0.447},{"s":"blue","w":902,"a":0.457},{"s":"blue","w":881,"a":0.481},{"s":"blue","w":859,"a":0.418},{"s":"blue","w":848,"a":0.506},{"s":"blue","w":840,"a":0.437},{"s":"blue","w":830,"a":0.428},{"s":"blue","w":821,"a":0.516},{"s":"blue","w":806,"a":0.673},{"s":"blue","w":797,"a":0.467},{"s":"blue","w":782,"a":0.575},{"s":"blue","w":768,"a":0.751},{"s":"blue","w":758,"a":0.575},{"s":"blue","w":744,"a":0.771},{"s":"blue","w":734,"a":0.712},{"s":"blue","w":724,"a":0.82},{"s":"blue","w":717,"a":0.692},{"s":"blue","w":710,"a":0.496},{"s":"blue","w":698,"a":0.604},{"s":"blue","w":691,"a":0.379},{"s":"blue","w":677,"a":0.29},{"s":"blue","w":662,"a":0.271},{"s":"blue","w":628,"a":0.29},{"s":"blue","w":616,"a":0.329},{"s":"blue","w":600,"a":0.32},

{"s":"cyan","w":4000,"a":0.29},{"s":"cyan","w":3950,"a":0.275},{"s":"cyan","w":3900,"a":0.265},{"s":"cyan","w":3800,"a":0.258},{"s":"cyan","w":3710,"a":0.255},{"s":"cyan","w":3690,"a":0.25},{"s":"cyan","w":3600,"a":0.245},{"s":"cyan","w":3550,"a":0.245},{"s":"cyan","w":3500,"a":0.25},{"s":"cyan","w":3474,"a":0.27},{"s":"cyan","w":3440,"a":0.26},{"s":"cyan","w":3400,"a":0.262},{"s":"cyan","w":3300,"a":0.275},{"s":"cyan","w":3200,"a":0.285},{"s":"cyan","w":3175,"a":0.335},{"s":"cyan","w":3150,"a":0.33},{"s":"cyan","w":3130,"a":0.335},{"s":"cyan","w":3113,"a":0.37},{"s":"cyan","w":3090,"a":0.44},{"s":"cyan","w":3068,"a":0.58},{"s":"cyan","w":3050,"a":0.74},{"s":"cyan","w":3034,"a":0.95},{"s":"cyan","w":3027,"a":1.1},{"s":"cyan","w":3018,"a":1.22},{"s":"cyan","w":3008,"a":1.30},{"s":"cyan","w":2998,"a":1.5},{"s":"cyan","w":2990,"a":1.9},{"s":"cyan","w":2984,"a":2.4},{"s":"cyan","w":2979,"a":3.0},{"s":"cyan","w":2972,"a":2.95},{"s":"cyan","w":2966,"a":2.93},{"s":"cyan","w":2960,"a":3.0},{"s":"cyan","w":2955,"a":3.45},{"s":"cyan","w":2950,"a":4.0},{"s":"cyan","w":2946,"a":4.3},{"s":"cyan","w":2942,"a":4.5},{"s":"cyan","w":2937,"a":4.3},{"s":"cyan","w":2932,"a":4.45},{"s":"cyan","w":2927,"a":4.25},{"s":"cyan","w":2922,"a":4.3},{"s":"cyan","w":2917,"a":4.15},{"s":"cyan","w":2912,"a":4.35},{"s":"cyan","w":2905,"a":4.4},{"s":"cyan","w":2900,"a":4.39},{"s":"cyan","w":2895,"a":4.35},{"s":"cyan","w":2890,"a":4.1},{"s":"cyan","w":2885,"a":4.0},{"s":"cyan","w":2880,"a":3.85},{"s":"cyan","w":2875,"a":3.55},{"s":"cyan","w":2872,"a":3.41},{"s":"cyan","w":2866,"a":3.2},{"s":"cyan","w":2861,"a":3.0},{"s":"cyan","w":2851,"a":2.73},{"s":"cyan","w":2845,"a":2.72},{"s":"cyan","w":2838,"a":2.6},{"s":"cyan","w":2834,"a":2.22},{"s":"cyan","w":2830,"a":1.85},{"s":"cyan","w":2825,"a":1.5},{"s":"cyan","w":2818,"a":1.28},{"s":"cyan","w":2812,"a":1.07},{"s":"cyan","w":2802,"a":0.86},{"s":"cyan","w":2785,"a":0.62},{"s":"cyan","w":2758,"a":0.49},{"s":"cyan","w":2744,"a":0.47},{"s":"cyan","w":2730,"a":0.58},{"s":"cyan","w":2717,"a":0.45},{"s":"cyan","w":2703,"a":0.44},{"s":"cyan","w":2690,"a":0.46},{"s":"cyan","w":2673,"a":0.48},{"s":"cyan","w":2658,"a":0.426},{"s":"cyan","w":2640,"a":0.40},{"s":"cyan","w":2612,"a":0.37},{"s":"cyan","w":2566,"a":0.32},{"s":"cyan","w":2520,"a":0.295},{"s":"cyan","w":2450,"a":0.28},{"s":"cyan","w":2400,"a":0.27},{"s":"cyan","w":2200,"a":0.26},{"s":"cyan","w":2100,"a":0.25},{"s":"cyan","w":2000,"a":0.255},
{"s":"cyan","w":1975,"a":0.25},{"s":"cyan","w":1900,"a":0.255},{"s":"cyan","w":1844,"a":0.26},{"s":"cyan","w":1809,"a":0.28},{"s":"cyan","w":1792,"a":0.32},{"s":"cyan","w":1779,"a":0.41},{"s":"cyan","w":1770,"a":0.49},{"s":"cyan","w":1764,"a":0.58},{"s":"cyan","w":1759,"a":0.9},{"s":"cyan","w":1755,"a":1.626},{"s":"cyan","w":1752,"a":2.364},{"s":"cyan","w":1749,"a":2.475},{"s":"cyan","w":1746,"a":2.118},{"s":"cyan","w":1743,"a":1.503},{"s":"cyan","w":1737,"a":1.01},{"s":"cyan","w":1731,"a":0.64},{"s":"cyan","w":1722,"a":0.42},{"s":"cyan","w":1705,"a":0.334},{"s":"cyan","w":1678,"a":0.31},{"s":"cyan","w":1644,"a":0.31},{"s":"cyan","w":1626,"a":0.334},{"s":"cyan","w":1615,"a":0.42},{"s":"cyan","w":1607,"a":0.53},{"s":"cyan","w":1600,"a":0.41},{"s":"cyan","w":1582,"a":0.37},{"s":"cyan","w":1569,"a":0.346},{"s":"cyan","w":1547,"a":0.346},{"s":"cyan","w":1521,"a":0.445},{"s":"cyan","w":1506,"a":0.74},{"s":"cyan","w":1499,"a":0.79},{"s":"cyan","w":1495,"a":0.888},{"s":"cyan","w":1486,"a":0.986},{"s":"cyan","w":1480,"a":1.257},{"s":"cyan","w":1476,"a":1.87},{"s":"cyan","w":1471,"a":2.98},{"s":"cyan","w":1468,"a":3.18},{"s":"cyan","w":1462,"a":3.05},{"s":"cyan","w":1457,"a":2.893},{"s":"cyan","w":1452,"a":3.18},{"s":"cyan","w":1447,"a":2.857},{"s":"cyan","w":1443,"a":2.364},{"s":"cyan","w":1439,"a":1.87},{"s":"cyan","w":1434,"a":1.38},{"s":"cyan","w":1427,"a":1.035},{"s":"cyan","w":1421,"a":0.79},{"s":"cyan","w":1412,"a":0.64},{"s":"cyan","w":1406,"a":0.605},{"s":"cyan","w":1399,"a":0.654},{"s":"cyan","w":1390,"a":1.01},{"s":"cyan","w":1384,"a":1.87},{"s":"cyan","w":1378,"a":2.5},{"s":"cyan","w":1374,"a":1.87},{"s":"cyan","w":1368,"a":1.454},{"s":"cyan","w":1362,"a":1.134},{"s":"cyan","w":1355,"a":0.84},{"s":"cyan","w":1347,"a":0.765},{"s":"cyan","w":1338,"a":0.716},{"s":"cyan","w":1325,"a":0.614},{"s":"cyan","w":1311,"a":0.653},{"s":"cyan","w":1296,"a":0.624},{"s":"cyan","w":1279,"a":0.598},{"s":"cyan","w":1267,"a":0.692},{"s":"cyan","w":1253,"a":0.731},{"s":"cyan","w":1240,"a":0.794},{"s":"cyan","w":1227,"a":0.731},{"s":"cyan","w":1205,"a":0.663},{"s":"cyan","w":1190,"a":0.712},{"s":"cyan","w":1181,"a":0.888},{"s":"cyan","w":1171,"a":1.182},{"s":"cyan","w":1158,"a":1.515},{"s":"cyan","w":1152,"a":1.339},{"s":"cyan","w":1145,"a":0.947},{"s":"cyan","w":1138,"a":0.692},{"s":"cyan","w":1128,"a":0.565},{"s":"cyan","w":1118,"a":0.692},{"s":"cyan","w":1109,"a":0.859},{"s":"cyan","w":1099,"a":0.771},{"s":"cyan","w":1090,"a":0.751},{"s":"cyan","w":1080,"a":0.555},{"s":"cyan","w":1070,"a":0.496},{"s":"cyan","w":1063,"a":0.526},{"s":"cyan","w":1049,"a":0.506},{"s":"cyan","w":1037,"a":0.575},{"s":"cyan","w":1023,"a":0.643},{"s":"cyan","w":1008,"a":0.575},{"s":"cyan","w":989,"a":0.496},{"s":"cyan","w":970,"a":0.516},{"s":"cyan","w":950,"a":0.467},{"s":"cyan","w":921,"a":0.437},{"s":"cyan","w":902,"a":0.447},{"s":"cyan","w":881,"a":0.461},{"s":"cyan","w":859,"a":0.388},{"s":"cyan","w":848,"a":0.486},{"s":"cyan","w":839,"a":0.402},{"s":"cyan","w":830,"a":0.398},{"s":"cyan","w":821,"a":0.516},{"s":"cyan","w":806,"a":0.702},{"s":"cyan","w":797,"a":0.457},{"s":"cyan","w":781,"a":0.633},{"s":"cyan","w":773,"a":0.565},{"s":"cyan","w":767,"a":0.771},{"s":"cyan","w":758,"a":0.565},{"s":"cyan","w":741,"a":0.908},{"s":"cyan","w":734,"a":0.731},{"s":"cyan","w":727,"a":0.731},{"s":"cyan","w":717,"a":0.555},{"s":"cyan","w":710,"a":0.428},{"s":"cyan","w":698,"a":0.565},{"s":"cyan","w":691,"a":0.339},{"s":"cyan","w":681,"a":0.251},{"s":"cyan","w":664,"a":0.241},{"s":"cyan","w":643,"a":0.271},{"s":"cyan","w":628,"a":0.29},{"s":"cyan","w":616,"a":0.329},{"s":"cyan","w":600,"a":0.31}
]},
"mark":{"type":"line","strokeWidth":4,"clip":true},
"encoding":{
"x":{"field":"w","type":"quantitative",
 "scale":{"domain":[4000,2000,600],"range":[0,1462,3507],"nice":false,"zero":false},
 "axis":{"values":[4000,3600,3200,2800,2400,2000,1800,1600,1400,1200,1000,800,600],
  "labelExpr":"datum.value == 4000 || datum.value == 600 ? format(datum.value, '.1f') : format(datum.value, 'd')",
  "title":"cm-1","grid":false,"domainColor":"black","domainWidth":4,"tickColor":"black","tickWidth":3,"tickSize":15,
  "labelFont":"Liberation Serif","labelFontSize":44,"labelColor":"black","labelPadding":16,"labelFlush":false,"labelOverlap":false,
  "titleFont":"Liberation Serif","titleFontSize":40,"titleFontWeight":"normal","titleColor":"black","titleX":1752,"titleY":112,"titleBaseline":"alphabetic","titleAlign":"center"}},
"y":{"field":"a","type":"quantitative",
 "scale":{"domain":[0.24,5.36],"nice":false,"zero":false},
 "axis":{"values":[0.24,0.5,1,1.5,2,2.5,3,3.5,4,4.5,5,5.36],
  "labelExpr":"datum.value == 0.24 || datum.value == 5.36 ? format(datum.value, '.2f') : format(datum.value, '.1f')",
  "title":"A","grid":false,"domainColor":"black","domainWidth":3,"tickColor":"black","tickWidth":3,"tickSize":12,
  "labelFont":"Liberation Serif","labelFontSize":44,"labelColor":"black","labelPadding":12,"labelFlush":false,"labelOverlap":false,"labelBaseline":"alphabetic","labelAlign":"right",
  "titleFont":"Liberation Serif","titleFontSize":44,"titleFontWeight":"normal","titleColor":"black","titleAngle":0,"titleX":-112,"titleY":1005,"titleBaseline":"middle","titleAlign":"center"}},
"color":{"field":"s","type":"nominal","scale":{"domain":["lime","purple","dgreen","red","blue","cyan"],"range":["#00ff00","#800080","#008000","#ff0000","#0000ff","#00ffff"]},"legend":null}
}
}
